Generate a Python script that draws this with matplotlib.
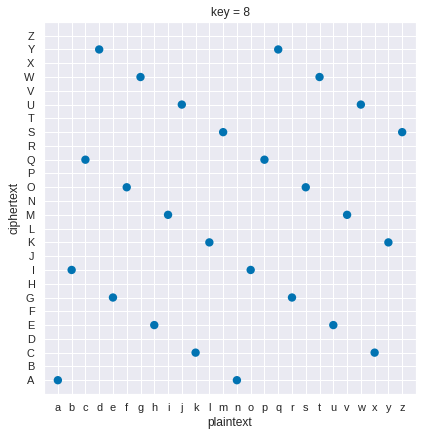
import matplotlib
matplotlib.use("Agg")
import matplotlib.pyplot as plt
import seaborn as sns

# plaintext letters and their ciphertext letters (key = 8)
plaintext = list("abcdefghijklmnopqrstuvwxyz")
ciphertext = list("AIQYGOWEMUCKSAIQYGOWEMUCKS")
upper = list("ABCDEFGHIJKLMNOPQRSTUVWXYZ")

sns.set_theme(style="darkgrid", palette="colorblind")
plt.rcParams["font.family"] = ["Liberation Sans", "DejaVu Sans"]

fig, ax = plt.subplots(figsize=(424 / 72, 438 / 72), dpi=72)
fig.subplots_adjust(left=0.104, right=0.981, top=0.950, bottom=0.1005)

xs = [plaintext.index(p) for p in plaintext]
ys = [upper.index(c) for c in ciphertext]
ax.scatter(xs, ys, s=70, color="#0173B2", edgecolor="none", zorder=3)

ax.set_xticks(range(len(plaintext)))
ax.set_xticklabels(plaintext)
ax.set_yticks(range(len(upper)))
ax.set_yticklabels(upper)
ax.set_xlim(-1, 26)
ax.set_ylim(-1, 26)
ax.set_xlabel("plaintext")
ax.set_ylabel("ciphertext")
ax.set_title("key = 8")

fig.savefig("out.png", dpi=72)
